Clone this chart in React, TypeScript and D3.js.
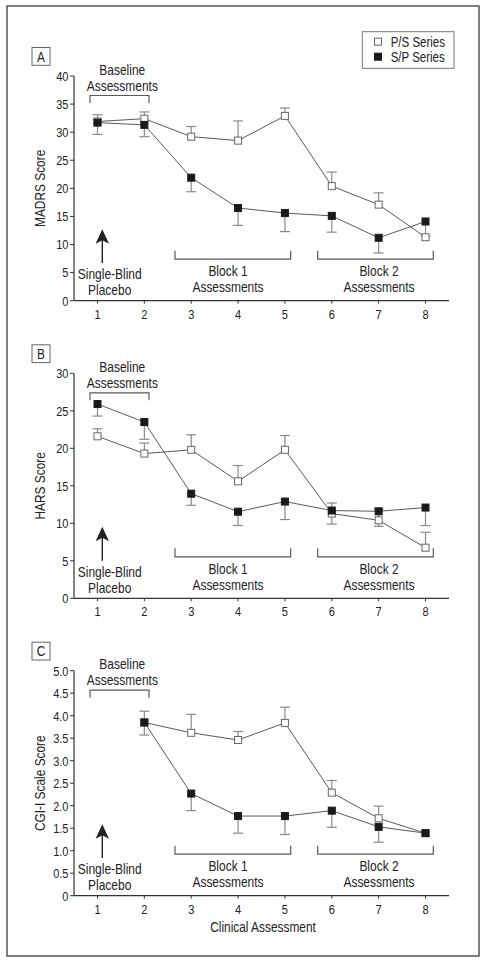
import React from "react";
import * as d3 from "d3";

const assessments = [1, 2, 3, 4, 5, 6, 7, 8];
const seriesNames = ["P/S Series", "S/P Series"];

// Panel A: MADRS
const madrsPS = [31.9, 32.4, 29.2, 28.5, 32.9, 20.4, 17.1, 11.3];
const madrsPSErr = [33.1, 33.6, 31.0, 32.0, 34.3, 22.9, 19.2, null];
const madrsSP = [31.7, 31.3, 21.9, 16.5, 15.6, 15.1, 11.2, 14.1];
const madrsSPErr = [29.6, 29.2, 19.4, 13.4, 12.3, 12.2, 8.5, 11.5];
const madrsTicks = [0, 5, 10, 15, 20, 25, 30, 35, 40];

// Panel B: HARS
const harsPS = [21.6, 19.3, 19.8, 15.6, 19.8, 11.3, 10.4, 6.75];
const harsPSErr = [22.6, 20.7, 21.8, 17.7, 21.7, 12.7, 11.9, 8.8];
const harsSP = [25.9, 23.5, 13.95, 11.55, 12.9, 11.7, 11.6, 12.1];
const harsSPErr = [24.3, 21.2, 12.4, 9.7, 10.5, 9.9, 9.6, 9.7];
const harsTicks = [0, 5, 10, 15, 20, 25, 30];

// Panel C: CGI-I
const cgiPS = [null, 3.85, 3.62, 3.46, 3.84, 2.29, 1.72, 1.39];
const cgiPSErr = [null, 4.1, 4.03, 3.65, 4.19, 2.56, 1.99, null];
const cgiSP = [null, 3.85, 2.27, 1.77, 1.77, 1.89, 1.53, 1.39];
const cgiSPErr = [null, 3.57, 1.89, 1.39, 1.36, 1.52, 1.19, null];
const cgiTicks = [0, 0.5, 1, 1.5, 2, 2.5, 3, 3.5, 4, 4.5, 5];

const FONT = "'Liberation Sans', Arial, sans-serif";
const SX = 0.82;
const LINE = "#5a5a5a";
const ERR = "#8a8a8a";
const AX = "#333";

const x = d3.scaleLinear().domain([1, 8]).range([97.5, 425.5]);

function T({ x: tx, y: ty, anchor = "middle", size = 13, rot = 0, children }: any) {
  return (
    <text
      transform={`translate(${tx},${ty})${rot ? ` rotate(${rot})` : ""} scale(${SX},1)`}
      dy="0.36em"
      textAnchor={anchor}
      fontSize={size}
      fontFamily={FONT}
      fill="#222"
    >
      {children}
    </text>
  );
}

type Panel = {
  label: string;
  title: string;
  max: number;
  top: number;
  zero: number;
  ticks: number[];
  fmt: (v: number) => string;
  ps: (number | null)[];
  psErr: (number | null)[];
  sp: (number | null)[];
  spErr: (number | null)[];
  xTitle?: string;
};

const panels: Panel[] = [
  { label: "A", title: "MADRS Score", max: 40, top: 76, zero: 300.7, ticks: madrsTicks, fmt: (v) => String(v), ps: madrsPS, psErr: madrsPSErr, sp: madrsSP, spErr: madrsSPErr },
  { label: "B", title: "HARS Score", max: 30, top: 373.3, zero: 598.3, ticks: harsTicks, fmt: (v) => String(v), ps: harsPS, psErr: harsPSErr, sp: harsSP, spErr: harsSPErr },
  { label: "C", title: "CGI-I Scale Score", max: 5, top: 670.7, zero: 895.7, ticks: cgiTicks, fmt: (v) => (v === 0 ? "0" : d3.format(".1f")(v)), ps: cgiPS, psErr: cgiPSErr, sp: cgiSP, spErr: cgiSPErr, xTitle: "Clinical Assessment" },
];

const SQ = 7;
const ANN = 14.6;

function PanelView({ p }: { p: Panel }) {
  const y = d3.scaleLinear().domain([0, p.max]).range([p.zero, p.top]);
  const line = d3
    .line<number | null>()
    .defined((d) => d != null)
    .x((_, i) => x(assessments[i]))
    .y((d) => y(d as number));
  const top = p.top;
  const z = p.zero;
  const bracket = (x0: number, x1: number, yb: number, yl: number) =>
    `M${x0},${yl}L${x0},${yb}L${x1},${yb}L${x1},${yl}`;
  const errBars = (vals: (number | null)[], errs: (number | null)[]) =>
    vals.map((v, i) => {
      const e = errs[i];
      if (v == null || e == null) return null;
      const cx = x(assessments[i]);
      return (
        <g key={i} stroke={ERR} strokeWidth={1.2}>
          <line x1={cx} x2={cx} y1={y(v)} y2={y(e)} />
          <line x1={cx - 5} x2={cx + 5} y1={y(e)} y2={y(e)} />
        </g>
      );
    });
  const markers = (vals: (number | null)[], filled: boolean) =>
    vals.map((v, i) =>
      v == null ? null : (
        <rect
          key={i}
          x={x(assessments[i]) - SQ / 2}
          y={y(v) - SQ / 2}
          width={SQ}
          height={SQ}
          fill={filled ? "#1a1a1a" : "#fff"}
          stroke={filled ? "#1a1a1a" : "#666"}
          strokeWidth={1}
        />
      )
    );
  return (
    <g>
      {/* panel label */}
      <rect x={32} y={top - 28.5} width={18} height={17.8} fill="#fff" stroke="#666" strokeWidth={1} />
      <T x={41} y={top - 19.6} size={14.5}>{p.label}</T>
      {/* axes */}
      <line x1={74} x2={74} y1={top} y2={z} stroke={AX} strokeWidth={1.2} />
      <line x1={74} x2={449} y1={z} y2={z} stroke={AX} strokeWidth={1.2} />
      {p.ticks.map((t) => (
        <g key={t}>
          <line x1={70} x2={74} y1={y(t)} y2={y(t)} stroke={AX} strokeWidth={1} />
          <T x={68.5} y={y(t)} anchor="end" size={13.5}>{p.fmt(t)}</T>
        </g>
      ))}
      {assessments.map((a) => (
        <g key={a}>
          <line x1={x(a)} x2={x(a)} y1={z} y2={z + 3} stroke={AX} strokeWidth={1} />
          <T x={x(a)} y={z + 13} size={13.5}>{a}</T>
        </g>
      ))}
      <T x={40} y={(top + z) / 2} rot={-90} size={14.5}>{p.title}</T>
      {p.xTitle && <T x={263} y={z + 31} size={14.5}>{p.xTitle}</T>}
      {/* baseline bracket */}
      <T x={122.3} y={top - 6.7} size={ANN}>Baseline</T>
      <T x={122.3} y={top + 9.3} size={ANN}>Assessments</T>
      <path d={bracket(90, 149, top + 19.5, top + 27)} fill="none" stroke={LINE} strokeWidth={1.2} />
      {/* arrow */}
      <line x1={102.3} x2={102.3} y1={z - 62} y2={z - 37.6} stroke="#222" strokeWidth={1.4} />
      <path d={`M102.3,${z - 71.5}L109,${z - 57}L102.3,${z - 60.5}L95.6,${z - 57}Z`} fill="#222" />
      <T x={109.7} y={z - 26.6} size={ANN}>Single-Blind</T>
      <T x={109.7} y={z - 10.6} size={ANN}>Placebo</T>
      {/* block brackets */}
      <path d={bracket(175, 290.7, z - 41.5, z - 50)} fill="none" stroke={LINE} strokeWidth={1.2} />
      <T x={228} y={z - 30} size={ANN}>Block 1</T>
      <T x={228} y={z - 13.7} size={ANN}>Assessments</T>
      <path d={bracket(317.7, 433.3, z - 41.5, z - 50)} fill="none" stroke={LINE} strokeWidth={1.2} />
      <T x={379} y={z - 30} size={ANN}>Block 2</T>
      <T x={379} y={z - 13.7} size={ANN}>Assessments</T>
      {/* data */}
      {errBars(p.ps, p.psErr)}
      {errBars(p.sp, p.spErr)}
      <path d={line(p.ps) || ""} fill="none" stroke={LINE} strokeWidth={1} />
      <path d={line(p.sp) || ""} fill="none" stroke={LINE} strokeWidth={1} />
      {markers(p.ps, false)}
      {markers(p.sp, true)}
    </g>
  );
}

export default function App() {
  return (
    <svg
      width={486}
      height={963}
      style={{ position: "absolute", left: 0, top: 0, background: "#fff" }}
    >
      <rect x={0} y={0} width={486} height={963} fill="#fff" />
      <rect x={7} y={6} width={472} height={950} fill="none" stroke="#555" strokeWidth={1.5} />
      {panels.map((p) => (
        <PanelView key={p.label} p={p} />
      ))}
      {/* legend */}
      <g>
        <rect x={362.3} y={31.7} width={91.7} height={36.6} fill="#fff" stroke="#777" strokeWidth={1} />
        {seriesNames.map((s, i) => (
          <g key={s}>
            <rect
              x={378 - SQ / 2}
              y={41.7 + i * 15 - SQ / 2}
              width={SQ}
              height={SQ}
              fill={i === 0 ? "#fff" : "#1a1a1a"}
              stroke={i === 0 ? "#666" : "#1a1a1a"}
            />
            <T x={390.7} y={41.7 + i * 15} anchor="start" size={14}>{s}</T>
          </g>
        ))}
      </g>
    </svg>
  );
}
